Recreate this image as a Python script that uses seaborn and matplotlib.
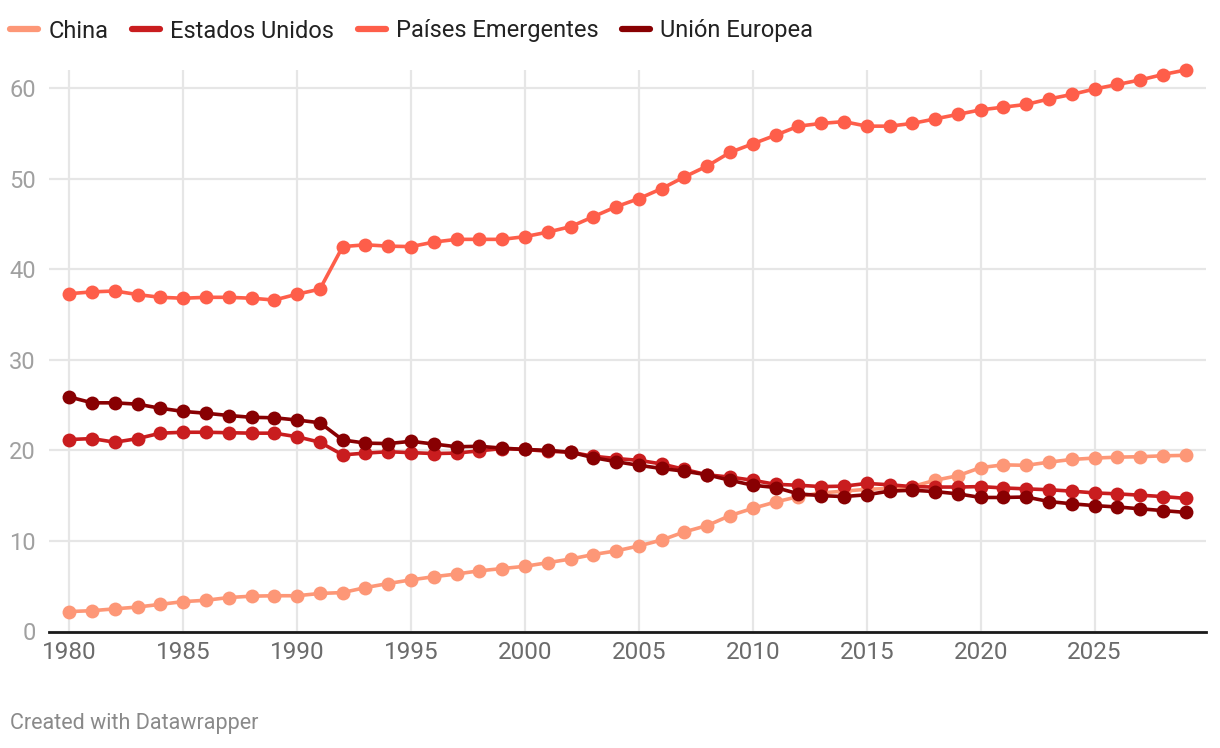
import matplotlib
matplotlib.use("Agg")
import matplotlib.pyplot as plt
from matplotlib.lines import Line2D
import seaborn as sns
import pandas as pd
import numpy as np

years = list(range(1980, 2030))

china = [2.2, 2.3, 2.5, 2.7, 3.0, 3.3, 3.45, 3.75, 3.9, 3.95,
         3.95, 4.2, 4.3, 4.85, 5.3, 5.7, 6.05, 6.35, 6.7, 6.95,
         7.2, 7.6, 8.0, 8.5, 8.9, 9.45, 10.1, 11.0, 11.7, 12.8,
         13.6, 14.3, 14.9, 15.3, 15.5, 15.7, 15.8, 16.0, 16.7, 17.2,
         18.1, 18.4, 18.35, 18.7, 19.0, 19.15, 19.25, 19.3, 19.4, 19.45]

usa = [21.2, 21.3, 20.9, 21.3, 21.9, 22.0, 22.0, 21.95, 21.9, 21.9,
       21.5, 20.9, 19.5, 19.7, 19.85, 19.75, 19.65, 19.7, 19.95, 20.2,
       20.1, 19.9, 19.8, 19.35, 19.1, 18.9, 18.5, 17.9, 17.3, 17.05,
       16.7, 16.25, 16.15, 16.0, 16.05, 16.35, 16.2, 16.0, 15.95, 15.95,
       16.0, 15.85, 15.75, 15.65, 15.5, 15.3, 15.2, 15.05, 14.9, 14.7]

emergentes = [37.3, 37.5, 37.6, 37.2, 36.9, 36.8, 36.9, 36.9, 36.8, 36.6,
              37.25, 37.8, 42.5, 42.7, 42.55, 42.5, 43.0, 43.3, 43.3, 43.3,
              43.6, 44.1, 44.7, 45.8, 46.9, 47.8, 48.9, 50.2, 51.4, 52.9,
              53.85, 54.8, 55.8, 56.1, 56.3, 55.8, 55.8, 56.1, 56.6, 57.1,
              57.6, 57.9, 58.2, 58.8, 59.3, 59.9, 60.4, 60.9, 61.5, 62.0]

ue = [25.9, 25.25, 25.25, 25.1, 24.65, 24.3, 24.1, 23.85, 23.65, 23.6,
      23.35, 23.05, 21.15, 20.8, 20.75, 21.0, 20.7, 20.4, 20.45, 20.25,
      20.1, 20.0, 19.8, 19.2, 18.75, 18.35, 18.0, 17.7, 17.3, 16.7,
      16.15, 15.9, 15.2, 15.0, 14.9, 15.1, 15.5, 15.6, 15.45, 15.2,
      14.8, 14.8, 14.85, 14.35, 14.1, 13.9, 13.75, 13.55, 13.35, 13.15]

series_names = ["China", "Estados Unidos", "Países Emergentes", "Unión Europea"]
series_values = [china, usa, emergentes, ue]
colors = ["#fd9777", "#c91d1f", "#fe5e4a", "#880002"]

x_ticks = list(range(1980, 2030, 5))
y_ticks = [0, 10, 20, 30, 40, 50, 60]

rows = []
for name, vals in zip(series_names, series_values):
    for y, v in zip(years, vals):
        rows.append({"year": y, "value": v, "serie": name})
df = pd.DataFrame(rows)

sns.set_theme(style="white")
plt.rcParams["font.family"] = ["Roboto", "DejaVu Sans"]

fig = plt.figure(figsize=(12.2, 7.48), dpi=100)
ax = fig.add_axes([49 / 1220, 1 - 631.5 / 748, (1206 - 49) / 1220, (631.5 - 70) / 748])

palette = dict(zip(series_names, colors))
for name in series_names:
    sub = df[df["serie"] == name]
    sns.lineplot(data=sub, x="year", y="value", color=palette[name], ax=ax,
                 linewidth=2.6, marker="o", markersize=10, markeredgewidth=0,
                 legend=False, zorder=3, clip_on=False)

ax.set_xlim(1979.11, 2029.89)
ax.set_ylim(0, 62)
ax.set_xticks(x_ticks)
ax.set_yticks(y_ticks)
ax.set_xticklabels([str(t) for t in x_ticks], fontsize=17.5, color="#6b6b6b")
ax.set_yticklabels([str(t) for t in y_ticks], fontsize=17, color="#a0a0a0")
ax.tick_params(axis="both", length=0)
ax.tick_params(axis="x", pad=7)
ax.tick_params(axis="y", pad=9.4)
ax.grid(True, color="#e6e6e6", linewidth=1.6, zorder=0)
ax.set_axisbelow(True)
for s in ["top", "right", "left"]:
    ax.spines[s].set_visible(False)
ax.spines["bottom"].set_color("#1a1a1a")
ax.spines["bottom"].set_linewidth(2)
ax.spines["bottom"].set_zorder(2)
ax.set_xlabel("")
ax.set_ylabel("")

handles = [Line2D([0], [0], color=c, linewidth=4.5, solid_capstyle="round") for c in colors]
fig.legend(handles, series_names, loc="center left",
           bbox_to_anchor=(10 / 1220, 1 - 31 / 748),
           ncol=4, frameon=False, fontsize=17, handlelength=1.2,
           handletextpad=0.42, columnspacing=1.0, labelcolor="#222222",
           borderaxespad=0, borderpad=0)

fig.text(10 / 1220, 1 - 723 / 748, "Created with Datawrapper", fontsize=15.5,
         color="#8a8a8a", va="center", ha="left")

fig.savefig("out.png", dpi=100)
